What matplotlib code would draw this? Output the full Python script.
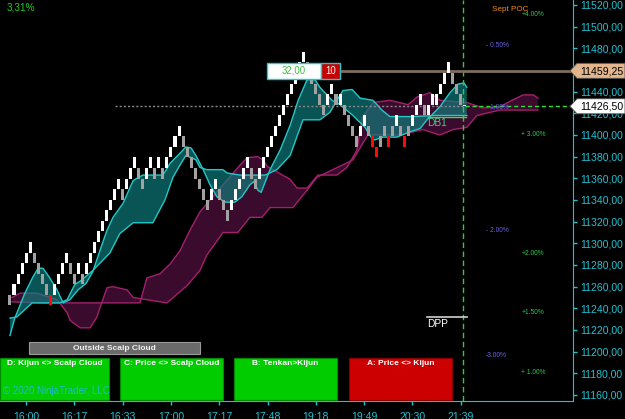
import matplotlib
matplotlib.use("Agg")
import matplotlib.pyplot as plt
from matplotlib.patches import Polygon, Rectangle

plt.rcParams['font.family'] = ['Liberation Sans', 'DejaVu Sans']

# ---------------- data ----------------
bar_low = [
    11242.75, 11252.50, 11262.25, 11272.00, 11281.75, 11291.50, 11281.75, 11272.00, 11262.25, 11252.50,
    11242.75, 11252.50, 11262.25, 11272.00, 11281.75, 11272.00, 11262.25, 11272.00, 11262.25, 11272.00,
    11281.75, 11291.50, 11301.25, 11311.00, 11320.75, 11330.50, 11340.25, 11350.00, 11340.25, 11350.00,
    11359.75, 11369.50, 11359.75, 11350.00, 11359.75, 11369.50, 11359.75, 11369.50, 11359.75, 11369.50,
    11379.25, 11389.00, 11398.75, 11389.00, 11379.25, 11369.50, 11359.75, 11350.00, 11340.25, 11330.50,
    11340.25, 11350.00, 11340.25, 11330.50, 11320.75, 11330.50, 11340.25, 11350.00, 11359.75, 11369.50,
    11359.75, 11350.00, 11359.75, 11369.50, 11379.25, 11389.00, 11398.75, 11408.50, 11418.25, 11428.00,
    11437.75, 11447.50, 11457.25, 11467.00, 11457.25, 11447.50, 11437.75, 11428.00, 11418.25, 11428.00,
    11437.75, 11428.00, 11428.00, 11418.25, 11408.50, 11398.75, 11389.00, 11398.75, 11408.50, 11398.75,
    11389.00, 11379.25, 11389.00, 11398.75, 11389.00, 11398.75, 11408.50, 11398.75, 11389.00, 11398.75,
    11408.50, 11418.25, 11428.00, 11418.25, 11418.25, 11428.00, 11428.00, 11437.75, 11447.50, 11457.25,
    11447.50, 11437.75, 11428.00, 11426.50]
bar_high = [
    11252.50, 11262.25, 11272.00, 11281.75, 11291.50, 11301.25, 11291.50, 11281.75, 11272.00, 11262.25,
    11252.50, 11262.25, 11272.00, 11281.75, 11291.50, 11281.75, 11272.00, 11281.75, 11272.00, 11281.75,
    11291.50, 11301.25, 11311.00, 11320.75, 11330.50, 11340.25, 11350.00, 11359.75, 11350.00, 11359.75,
    11369.50, 11379.25, 11369.50, 11359.75, 11369.50, 11379.25, 11369.50, 11379.25, 11369.50, 11379.25,
    11389.00, 11398.75, 11408.50, 11398.75, 11389.00, 11379.25, 11369.50, 11359.75, 11350.00, 11340.25,
    11350.00, 11359.75, 11350.00, 11340.25, 11330.50, 11340.25, 11350.00, 11359.75, 11369.50, 11379.25,
    11369.50, 11359.75, 11369.50, 11379.25, 11389.00, 11398.75, 11408.50, 11418.25, 11428.00, 11437.75,
    11447.50, 11457.25, 11467.00, 11476.75, 11467.00, 11457.25, 11447.50, 11437.75, 11428.00, 11437.75,
    11447.50, 11437.75, 11437.75, 11428.00, 11418.25, 11408.50, 11398.75, 11408.50, 11418.25, 11408.50,
    11398.75, 11389.00, 11398.75, 11408.50, 11398.75, 11408.50, 11418.25, 11408.50, 11398.75, 11408.50,
    11418.25, 11428.00, 11437.75, 11428.00, 11428.00, 11437.75, 11437.75, 11447.50, 11457.25, 11467.00,
    11457.25, 11447.50, 11437.75, 11428.00]
bar_kind = ("GWWWWWGGGG" "RWWWWGGWGW" "WWWWWWWWGW" "WWGGWWGWGW" "WWWGGGGGGG"
            "WWGGGWWWWW" "GGWWWWWWWW" "WWWWGGGGGW" "WGWGGGGWWG" "RRGGRGWGRG"
            "WWWGWWWWWW" "GGGW")

time_tick_bars = [4, 16, 28, 40, 52, 64, 76, 88, 100, 112]
time_labels = ["16:00", "16:17", "16:33", "17:00", "17:17", "17:48", "19:18", "19:49", "20:30", "21:39"]
price_ticks = [11160, 11180, 11200, 11220, 11240, 11260, 11280, 11300, 11320, 11340,
               11360, 11380, 11400, 11420, 11440, 11460, 11480, 11500, 11520]

# scalp cloud (teal): fast and slow lines  (bar position, price)
fast_x = [0, 1.2, 3.7, 5.7, 7, 8.2, 9.9, 11.7, 13.2, 14.9, 16.9, 18.9, 20.6, 22.4, 24.1, 25.6, 28.1,
          30.6, 33, 38, 39.8, 42.2, 43.7, 45, 46.2, 48, 49.7, 51.4, 53.4, 55.9, 57.6, 59.6, 60.6,
          61.6, 62.4, 64.6, 67.1, 69.6, 71.6, 73.8, 75.8, 77, 80, 82, 85.2, 88.2, 90.2, 92.7, 96.1,
          99.4, 101.9, 103.6, 106.8, 109.3, 111.3, 112.8, 113.5]
fast_y = [11215, 11231, 11254, 11269, 11277, 11277, 11268, 11257, 11245, 11248, 11257, 11263, 11274,
          11294, 11312, 11324, 11337, 11358, 11363, 11363, 11374, 11383, 11389, 11388, 11381, 11368,
          11354, 11343, 11338, 11338, 11343, 11354, 11357, 11349, 11347, 11368, 11386, 11409, 11432,
          11451, 11451, 11444, 11432, 11428, 11418, 11407, 11395, 11398, 11398, 11403, 11406, 11414,
          11426, 11439, 11447, 11448, 11444]
slow_x = [0, 1.7, 5.5, 12.4, 14.2, 16.1, 17.4, 20.6, 24.8, 27.3, 30.6, 35.5, 38.5, 40.5, 42.2, 43.7,
          45, 46.2, 47.2, 48.9, 52.9, 53.9, 57.1, 63.4, 66.3, 69.6, 72.8, 77, 79.5, 82.7, 85, 87,
          90.2, 92.4, 94.4, 99.9, 105.6, 113.5]
slow_y = [11231, 11232, 11245, 11245, 11248, 11262, 11265, 11275, 11291, 11309, 11319, 11319, 11340,
          11361, 11372, 11381, 11379, 11377, 11370, 11368, 11368, 11365, 11363, 11363, 11368, 11381,
          11414, 11414, 11421, 11441, 11442, 11434, 11432, 11423, 11417, 11417, 11418, 11418]

# ichimoku cloud (purple): span A and span B
spanA_x = [0.5, 2.5, 6.7, 9.9, 11.7, 14.2, 14.9, 17.4, 19.9, 21.6, 22.4, 24.1, 25.6, 29.1, 30.6, 39,
           44, 47.2, 48.9, 52.9, 56.6, 59.6, 62.6, 64.6, 70.3, 73.8, 76.3, 85.2, 88.9, 96.9, 102.6,
           106.8, 110.1, 113.5, 116, 121.7, 131.2]
spanA_y = [11250, 11254, 11254, 11250, 11248, 11236, 11229, 11222, 11222, 11232, 11241, 11259, 11260,
           11257, 11250, 11245, 11261, 11275, 11289, 11310, 11310, 11324, 11324, 11333, 11333, 11349,
           11361, 11377, 11400, 11400, 11405, 11400, 11405, 11407, 11418, 11423, 11423]
spanB_x = [0.5, 8.2, 14.2, 22.4, 32.3, 34, 37.3, 39.8, 42.2, 44.7, 47.2, 49.7, 57.1, 58.9, 61.6, 62.9,
           63.9, 66.3, 69.6, 71.3, 73.8, 76.5, 81.2, 83.7, 86.2, 87.5, 90.2, 94.4, 98.9, 101.1, 104.3,
           106.8, 113.5, 117.5, 121.7, 124.7, 127.5, 130, 131.2]
spanB_y = [11246, 11245, 11245, 11245, 11245, 11268, 11272, 11281, 11293, 11312, 11329, 11340, 11372,
           11379, 11380, 11377, 11371, 11366, 11359, 11351, 11351, 11363, 11363, 11370, 11386, 11416,
           11430, 11432, 11428, 11435, 11439, 11432, 11430, 11425, 11426, 11432, 11437, 11437, 11434]

last_price = 11426.50
line_price = 11459.25
db1_price = 11417.0
dpp_price = 11232.0
pct_labels = [("+4.00%", 11510.8, "g"), ("- 0.50%", 11482.6, "b"), ("- 1.00%", 11425.4, "b"),
              ("+ 3.00%", 11400.0, "g"), ("- 2.00%", 11311.4, "b"), ("+2.00%", 11290.2, "g"),
              ("+1.50%", 11235.7, "g"), ("-3.00%", 11196.9, "b"), ("+ 1.00%", 11181.2, "g")]

# ---------------- figure ----------------
W, H = 625, 419
fig = plt.figure(figsize=(W / 100, H / 100), dpi=100, facecolor="black")
ax = fig.add_axes([0, 18 / H, 573 / W, 401 / H], facecolor="black")
ax.set_xlim(-2.48, 139.88)
ax.set_ylim(11154.45, 11524.6)

CYAN = "#22c2d2"
# purple cloud
pur = list(zip(spanA_x, spanA_y)) + list(zip(spanB_x, spanB_y))[::-1]
ax.add_patch(Polygon(pur, closed=True, facecolor="#3a0b2c", edgecolor="none", zorder=1))
ax.plot(spanA_x, spanA_y, color="#a3206c", lw=1.0, zorder=1.5)
ax.plot(spanB_x, spanB_y, color="#a3206c", lw=1.0, zorder=1.5)
# teal cloud
teal = list(zip(fast_x, fast_y)) + list(zip(slow_x, slow_y))[::-1]
ax.add_patch(Polygon(teal, closed=True, facecolor="#0f8282", alpha=0.65, edgecolor="none", zorder=2))
ax.plot(fast_x, fast_y, color="#22c8c8", lw=1.0, zorder=2.5)
ax.plot(slow_x, slow_y, color="#22c8c8", lw=1.0, zorder=2.5)

# lines
n = len(bar_low)
ax.plot([26.1, n - 1], [last_price, last_price], color="#8a8a8a", lw=1.0, ls=(0, (1.5, 1.5)), zorder=3)
ax.plot([n - 1, 139.88], [last_price, last_price], color="#33dd33", lw=1.0, ls=(0, (3, 2)), zorder=3)
ax.axvline(112.6, color="#33cc33", lw=1.0, ls=(0, (4, 2.5)), zorder=3)
ax.plot([82, 139.88], [line_price, line_price], color="#7d6e5f", lw=2.0, zorder=3)
ax.plot([103.9, 113.2], [db1_price, db1_price], color="#33dd55", lw=1.0, zorder=3)
ax.plot([103.6, 113.6], [dpp_price, dpp_price], color="#d0d0d0", lw=1.2, zorder=3)
ax.text(103.6, dpp_price - 2, "DPP", color="white", fontsize=7.3, va="top", ha="left", zorder=6)
ax.text(103.7, db1_price - 1.2, "DB1", color="#44cc88", fontsize=7.3, va="top", ha="left", zorder=6)
ax.text(119.8, 11515.4, "Sept POC", color="#e88a1a", fontsize=5.9, va="center", ha="left", zorder=6)
for txt, p, c in pct_labels:
    if c == "g":
        ax.text(127.0, p, txt, color="#22cc44", fontsize=4.8, va="center", ha="left", zorder=6)
    else:
        ax.text(118.2, p, txt, color="#6a62e6", fontsize=4.8, va="center", ha="left", zorder=6)

# bars
colmap = {"W": "#ffffff", "G": "#a2a2a2", "R": "#ff0a0a"}
xs = list(range(n))
heights = [h - l for h, l in zip(bar_high, bar_low)]
ax.bar(xs, heights, bottom=bar_low, width=0.75, color=[colmap[k] for k in bar_kind],
       linewidth=0, zorder=4)

# axes styling
for s in ["top", "left"]:
    ax.spines[s].set_visible(False)
ax.spines["right"].set_color(CYAN)
ax.spines["bottom"].set_color(CYAN)
ax.yaxis.tick_right()
ax.set_yticks(price_ticks)
ax.set_yticklabels([f"{p:.2f}".replace(".", ",") for p in price_ticks])
ax.set_xticks(time_tick_bars)
ax.set_xticklabels(time_labels)
ax.tick_params(axis="y", colors=CYAN, labelcolor=CYAN, labelsize=7.6, length=3, width=1, pad=2.5)
ax.tick_params(axis="x", colors=CYAN, labelcolor=CYAN, labelsize=7.6, length=3, width=1, pad=5)

# ---------------- overlay (pixel space) ----------------
ov = fig.add_axes([0, 0, 1, 1], zorder=10)
ov.set_xlim(0, W)
ov.set_ylim(H, 0)
ov.axis("off")
ov.patch.set_alpha(0)
fig.canvas.draw()

def ypix(price):
    return H - ax.transData.transform((0, price))[1]

def xpix(pos):
    return ax.transData.transform((pos, 0))[0]

# label box on the horizontal line
yl = ypix(line_price)
x0b = xpix(63.9)
x1b = xpix(82)
ov.add_patch(Rectangle((x0b, yl - 8), 54, 16, facecolor="white", edgecolor="#22c8d0", lw=1.0))
ov.add_patch(Rectangle((x0b + 54, yl - 8), x1b - x0b - 54, 16, facecolor="#c80000", edgecolor="#22c8d0", lw=1.0))
ov.text(x0b + 27, yl, "32,00", color="#44bb44", fontsize=6.9, ha="center", va="center")
ov.text(x0b + 54 + (x1b - x0b - 54) / 2, yl, "10", color="white", fontsize=6.9, ha="center", va="center")

# price markers on the axis
for p, fc in [(line_price, "#e2b58c"), (last_price, "#ffffff")]:
    yy = ypix(p)
    ov.add_patch(Polygon([(570, yy), (577, yy - 7.5), (625, yy - 7.5), (625, yy + 7.5), (577, yy + 7.5)],
                         closed=True, facecolor=fc, edgecolor="#555555", lw=0.6))
    ov.text(580, yy + 0.5, f"{p:.2f}".replace(".", ","), color="black", fontsize=7.6, ha="left", va="center")

# percent header
ov.text(7, 7.5, "3,31%", color="#22cc22", fontsize=7.2, ha="left", va="center")

# signal panel
ov.add_patch(Rectangle((29, 342), 171, 12, facecolor="#6a6a6a", edgecolor="#9a9a9a", lw=0.8))
ov.text(114.5, 348.3, "Outside Scalp Cloud", color="#f0f0f0", fontsize=6, fontweight="bold",
        ha="center", va="center")
boxes = [(0, 109, "#00cc00", "D: Kijun <> Scalp Cloud"),
         (120, 223, "#00cc00", "C: Price <> Scalp Cloud"),
         (234, 337, "#00cc00", "B: Tenkan>Kijun"),
         (349, 452, "#cc0000", "A: Price <> Kijun")]
for xa, xb, fc, txt in boxes:
    ov.add_patch(Rectangle((xa, 358), xb - xa, 42, facecolor=fc, edgecolor="#008800" if fc == "#00cc00" else "#880000", lw=0.8))
    ov.text((xa + xb) / 2, 363.5, txt, color="white", fontsize=6, fontweight="bold", ha="center", va="center")
ov.text(3, 390.5, "\u00a9 2020 NinjaTrader, LLC", color="#22bcc8", fontsize=7, ha="left", va="center")

fig.savefig("out.png", dpi=100, facecolor="black")
